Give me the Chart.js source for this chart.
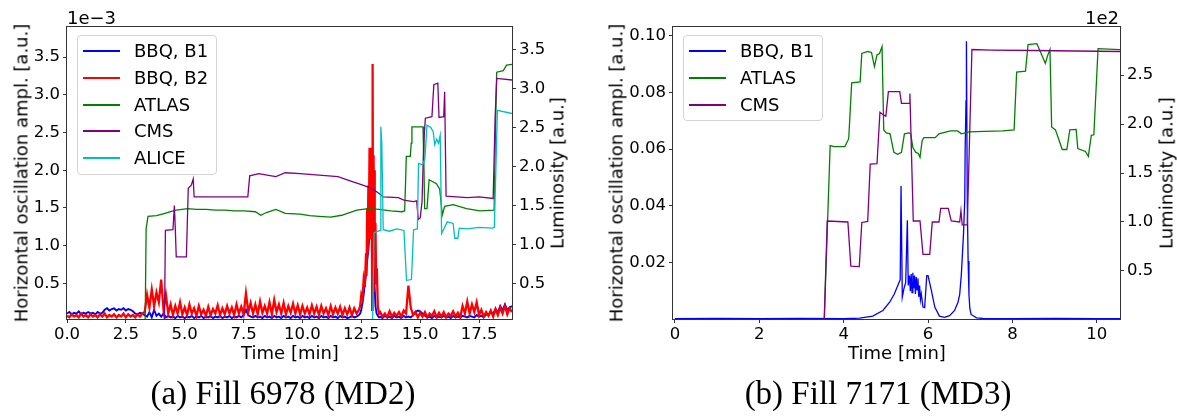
<!DOCTYPE html>
<html>
<head>
<meta charset="utf-8">
<script src="https://cdn.jsdelivr.net/npm/chart.js@4.4.1/dist/chart.umd.min.js"></script>
<style>
  body { margin: 0; background: #fff; width: 1177px; height: 417px; position: relative; overflow: hidden; font-family: "DejaVu Sans", sans-serif; }
  canvas { position: absolute; top: 0; }
  .t { position: absolute; font-size: 18px; line-height: 21px; color: #000; white-space: nowrap; }
  .c { transform: translate(-50%, -50%); }
  .rot { transform: translate(-50%, -50%) rotate(-90deg); }
  .cap { position: absolute; font-family: "Liberation Serif", "Times New Roman", serif; font-size: 33px; white-space: nowrap; transform: translate(-50%, -50%); }
  .legend { position: absolute; border: 1px solid #d4d4d4; border-radius: 4px; background: rgba(255,255,255,0.8); box-sizing: border-box; }
</style>
</head>
<body>
<canvas id="left" width="590" height="345" style="left:0"></canvas>
<canvas id="right" width="587" height="345" style="left:590px"></canvas>

<div class="t" style="left:67px;top:7px">1e−3</div>
<div class="t" style="right:58px;top:7px">1e2</div>
<div class="t rot" style="left:21px;top:173px">Horizontal oscillation ampl. [a.u.]</div>
<div class="t rot" style="left:557px;top:173px">Luminosity [a.u.]</div>
<div class="t rot" style="left:616px;top:173px">Horizontal oscillation ampl. [a.u.]</div>
<div class="t rot" style="left:1166px;top:173px">Luminosity [a.u.]</div>
<div class="t c" style="left:290px;top:352px">Time [min]</div>
<div class="t c" style="left:897px;top:352px">Time [min]</div>
<div class="cap" style="left:283px;top:393px">(a) Fill 6978 (MD2)</div>
<div class="cap" style="left:878px;top:393px">(b) Fill 7171 (MD3)</div>

<script>
// ---------- (a) Fill 6978 ----------
// time grid of the BBQ traces [min]
const gridA = [
  0, 0.1, 0.2, 0.3, 0.4, 0.5, 0.6, 0.7, 0.8, 0.9,
  1, 1.1, 1.2, 1.3, 1.4, 1.5, 1.6, 1.7, 1.8, 1.9,
  2, 2.1, 2.2, 2.3, 2.4, 2.5, 2.6, 2.7, 2.8, 2.9,
  3, 3.1, 3.2, 3.3, 3.4, 3.5, 3.6, 3.7, 3.8, 3.9,
  4, 4.1, 4.2, 4.3, 4.4, 4.5, 4.6, 4.7, 4.8, 4.9,
  5, 5.1, 5.2, 5.3, 5.4, 5.5, 5.6, 5.7, 5.8, 5.9,
  6, 6.1, 6.2, 6.3, 6.4, 6.5, 6.6, 6.7, 6.8, 6.9,
  7, 7.1, 7.2, 7.3, 7.4, 7.5, 7.6, 7.7, 7.8, 7.9,
  8, 8.1, 8.2, 8.3, 8.4, 8.5, 8.6, 8.7, 8.8, 8.9,
  9, 9.1, 9.2, 9.3, 9.4, 9.5, 9.6, 9.7, 9.8, 9.9,
  10, 10.1, 10.2, 10.3, 10.4, 10.5, 10.6, 10.7, 10.8, 10.9,
  11, 11.1, 11.2, 11.3, 11.4, 11.5, 11.6, 11.7, 11.8, 11.9,
  12, 12.1, 12.2, 12.3, 12.4
];
const gridB = [
  13.3, 13.4, 13.5, 13.6, 13.7, 13.8, 13.9,
  14, 14.1, 14.2, 14.3, 14.4, 14.5, 14.6, 14.7, 14.8, 14.9,
  15, 15.1, 15.2, 15.3, 15.4, 15.5, 15.6, 15.7, 15.8, 15.9,
  16, 16.1, 16.2, 16.3, 16.4, 16.5, 16.6, 16.7, 16.8, 16.9,
  17, 17.1, 17.2, 17.3, 17.4, 17.5, 17.6, 17.7, 17.8, 17.9,
  18, 18.1, 18.2, 18.3, 18.4, 18.5, 18.6, 18.7, 18.8, 18.9
];

// BBQ B2 amplitude (x1e-3)
const b2AmpA = [
  0.07, 0.05, 0.09, 0.06, 0.08, 0.05, 0.10, 0.06, 0.08, 0.05,
  0.09, 0.06, 0.08, 0.05, 0.09, 0.06, 0.10, 0.05, 0.08, 0.06,
  0.09, 0.05, 0.08, 0.06, 0.10, 0.05, 0.09, 0.06, 0.08, 0.05,
  0.09, 0.06, 0.10, 0.12, 0.35, 0.18, 0.42, 0.20, 0.38, 0.25,
  0.55, 0.15, 0.35, 0.10, 0.22, 0.08, 0.20, 0.10, 0.25, 0.09,
  0.18, 0.08, 0.22, 0.10, 0.17, 0.07, 0.20, 0.09, 0.15, 0.07,
  0.19, 0.08, 0.16, 0.10, 0.21, 0.08, 0.17, 0.09, 0.20, 0.10,
  0.18, 0.08, 0.22, 0.10, 0.19, 0.09, 0.37, 0.12, 0.24, 0.10,
  0.22, 0.09, 0.26, 0.11, 0.20, 0.10, 0.25, 0.09, 0.28, 0.12,
  0.22, 0.10, 0.24, 0.09, 0.20, 0.11, 0.23, 0.10, 0.21, 0.09,
  0.20, 0.10, 0.18, 0.09, 0.21, 0.10, 0.19, 0.08, 0.20, 0.10,
  0.17, 0.08, 0.20, 0.09, 0.18, 0.10, 0.19, 0.08, 0.17, 0.09,
  0.18, 0.08, 0.17, 0.10, 0.15
];
const b2PeakT = [12.45, 12.5, 12.55, 12.6, 12.65, 12.7, 12.72, 12.75, 12.77, 12.8, 12.82, 12.85, 12.87, 12.9,
  12.92, 12.94, 12.96, 12.98, 13.0, 13.02, 13.04, 13.06, 13.08, 13.1, 13.13, 13.16, 13.2, 13.25];
const b2PeakA = [0.2, 0.35, 0.3, 0.55, 0.45, 0.9, 0.6, 1.5, 0.9, 1.8, 1.2, 2.3, 1.1, 2.0,
  1.4, 2.3, 0.15, 3.41, 0.4, 2.2, 1.2, 2.0, 0.9, 1.3, 0.5, 0.7, 0.2, 0.1];
const b2AmpB = [
  0.12, 0.06, 0.10, 0.05, 0.13, 0.06, 0.11,
  0.07, 0.12, 0.06, 0.14, 0.10, 0.47, 0.18, 0.08, 0.12, 0.05,
  0.11, 0.06, 0.12, 0.05, 0.10, 0.07, 0.13, 0.05, 0.11, 0.06,
  0.12, 0.05, 0.10, 0.07, 0.13, 0.06, 0.11, 0.05, 0.20, 0.10,
  0.26, 0.10, 0.22, 0.12, 0.25, 0.08, 0.15, 0.06, 0.12, 0.07,
  0.14, 0.06, 0.16, 0.08, 0.18, 0.10, 0.20, 0.09, 0.17, 0.12
];

// BBQ B1 amplitude (x1e-3)
const b1AmpA = [
  0.10, 0.12, 0.09, 0.11, 0.10, 0.13, 0.09, 0.11, 0.10, 0.12,
  0.10, 0.11, 0.09, 0.12, 0.10, 0.11, 0.15, 0.17, 0.14, 0.16,
  0.17, 0.14, 0.16, 0.15, 0.17, 0.14, 0.16, 0.15, 0.13, 0.10,
  0.09, 0.11, 0.10, 0.08, 0.06, 0.12, 0.05, 0.15, 0.07, 0.10,
  0.06, 0.10, 0.05, 0.07, 0.05, 0.06, 0.04, 0.07, 0.05, 0.06,
  0.04, 0.06, 0.05, 0.07, 0.04, 0.06, 0.05, 0.07, 0.04, 0.06,
  0.05, 0.07, 0.04, 0.06, 0.05, 0.07, 0.04, 0.06, 0.05, 0.07,
  0.04, 0.06, 0.05, 0.07, 0.05, 0.08, 0.15, 0.08, 0.06, 0.05,
  0.07, 0.05, 0.06, 0.04, 0.07, 0.05, 0.06, 0.04, 0.07, 0.05,
  0.06, 0.04, 0.07, 0.05, 0.06, 0.04, 0.07, 0.05, 0.06, 0.04,
  0.07, 0.05, 0.06, 0.04, 0.07, 0.05, 0.06, 0.04, 0.07, 0.05,
  0.06, 0.04, 0.07, 0.05, 0.06, 0.04, 0.07, 0.05, 0.06, 0.04,
  0.05, 0.07, 0.05, 0.06, 0.08
];
const b1PeakT = [12.45, 12.5, 12.55, 12.6, 12.65, 12.7, 12.75, 12.8, 12.85, 12.9, 12.94, 12.98, 13.02, 13.06, 13.1, 13.15, 13.2, 13.25];
const b1PeakA = [0.1, 0.15, 0.25, 0.35, 0.5, 0.62, 0.8, 0.95, 1.15, 1.4, 1.6, 1.3, 0.9, 0.5, 0.2, 0.1, 0.07, 0.05];
const b1AmpB = [
  0.06, 0.04, 0.07, 0.05, 0.06, 0.04, 0.07,
  0.05, 0.06, 0.04, 0.07, 0.05, 0.06, 0.05, 0.08, 0.12, 0.14,
  0.13, 0.10, 0.07, 0.05, 0.06, 0.04, 0.07, 0.05, 0.06, 0.05,
  0.07, 0.05, 0.06, 0.04, 0.07, 0.05, 0.06, 0.05, 0.07, 0.06,
  0.05, 0.07, 0.06, 0.05, 0.08, 0.06, 0.07, 0.05, 0.09, 0.08,
  0.12, 0.10, 0.16, 0.12, 0.20, 0.14, 0.22, 0.15, 0.18, 0.20
];

// luminosities, fill 6978
const atlasT = [0, 3.32, 3.36, 3.44, 3.8, 4.16, 4.4, 4.64, 5.12, 5.5, 5.92, 6.3, 6.72, 7.1, 7.52, 8.0, 8.23, 8.47, 8.87, 9.27,
  9.91, 10.3, 10.71, 11.19, 11.67, 12.0, 12.31, 12.79, 13.27, 13.75, 14.23, 14.34, 14.38, 14.41, 14.58, 14.62, 14.65, 15.12,
  15.16, 15.19, 15.29, 15.38, 15.69, 15.83, 15.9, 15.94, 16.04, 16.4, 16.97, 17.54, 18.14, 18.2, 18.25, 18.53, 18.67, 18.9];
const atlasLumi = [0, 0, 1.2, 1.36, 1.37, 1.40, 1.42, 1.44, 1.46, 1.45, 1.45, 1.44, 1.44, 1.43, 1.43, 1.42, 1.375, 1.41, 1.45, 1.40,
  1.39, 1.37, 1.36, 1.35, 1.375, 1.41, 1.44, 1.46, 1.45, 1.43, 1.42, 1.43, 1.8, 2.13, 2.13, 2.3, 2.51, 2.51,
  2.0, 1.46, 1.46, 1.83, 1.78, 1.71, 1.5, 1.38, 1.49, 1.51, 1.46, 1.43, 1.44, 2.5, 3.21, 3.23, 3.30, 3.31];

const cmsT = [0, 4.14, 4.18, 4.5, 4.56, 4.6, 4.64, 5.07, 5.15, 5.28, 5.36, 5.40, 6.5, 7.68, 7.76, 8.15, 8.5, 8.87, 9.27, 9.91,
  10.71, 11.51, 11.99, 12.47, 12.95, 13.27, 13.43, 14.07, 14.31, 14.71, 14.85, 14.92, 15.0, 15.08, 15.15, 15.22, 15.5, 15.58,
  15.75, 15.8, 16.0, 16.04, 16.1, 17.0, 17.5, 18.1, 18.18, 18.25, 18.9];
const cmsLumi = [0, 0, 1.18, 1.19, 1.50, 1.2, 0.84, 0.84, 1.72, 1.76, 1.84, 1.61, 1.61, 1.61, 1.88, 1.91, 1.89, 1.87, 1.92, 1.91,
  1.89, 1.87, 1.82, 1.77, 1.72, 1.65, 1.61, 1.60, 1.57, 1.55, 1.56, 1.32, 1.34, 1.55, 2.3, 2.62, 2.64, 3.05,
  3.07, 2.63, 2.64, 2.96, 1.62, 1.60, 1.61, 1.59, 2.6, 3.13, 3.11];

const aliceT = [0, 12.98, 13.04, 13.3, 13.33, 13.37, 13.43, 13.7, 14.0, 14.31, 14.42, 14.63, 14.72, 14.88, 14.93, 15.1, 15.2,
  15.29, 15.45, 15.55, 15.62, 15.7, 15.78, 15.85, 15.91, 16.15, 16.4, 16.47, 16.6, 16.66, 17.0, 17.5, 18.07, 18.15, 18.28, 18.9];
const aliceLumi = [0, 0, 1.15, 1.18, 2.51, 2.3, 1.19, 1.17, 1.2, 1.18, 0.54, 0.55, 1.19, 1.2, 2.04, 2.02, 2.1,
  2.53, 2.5, 2.45, 2.28, 2.35, 2.3, 2.4, 1.14, 1.29, 1.27, 1.08, 1.08, 1.21, 1.2, 1.22, 1.21, 1.22, 2.72, 2.68];

const xTicksA = [0, 2.5, 5, 7.5, 10, 12.5, 15, 17.5];
const xLabelsA = ['0.0', '2.5', '5.0', '7.5', '10.0', '12.5', '15.0', '17.5'];
const ampTicksA = [0.5, 1.0, 1.5, 2.0, 2.5, 3.0, 3.5];
const ampLabelsA = ['0.5', '1.0', '1.5', '2.0', '2.5', '3.0', '3.5'];
const lumTicksA = [0.5, 1.0, 1.5, 2.0, 2.5, 3.0, 3.5];
const lumLabelsA = ['0.5', '1.0', '1.5', '2.0', '2.5', '3.0', '3.5'];

// ---------- (b) Fill 7171 ----------
const b1bT = [0, 1, 2, 3, 4, 4.38, 4.69, 4.93, 5.09, 5.2, 5.3, 5.34, 5.36, 5.39, 5.43, 5.47, 5.51, 5.53, 5.56, 5.58,
  5.60, 5.62, 5.64, 5.66, 5.68, 5.70, 5.72, 5.74, 5.76, 5.78, 5.80, 5.82, 5.84, 5.88, 5.92, 5.97, 6.0, 6.08, 6.16, 6.27,
  6.39, 6.51, 6.63, 6.71, 6.75, 6.79, 6.84, 6.87, 6.88, 6.90, 6.91, 6.93, 6.95, 6.97, 6.99, 7.02, 7.15, 7.3, 8, 9, 10, 10.55];
const b1bAmp = [0.0003, 0.0004, 0.0003, 0.0004, 0.0003, 0.0005, 0.0012, 0.0032, 0.0061, 0.009, 0.0126, 0.014, 0.047, 0.0079,
  0.011, 0.013, 0.035, 0.012, 0.0155, 0.010, 0.016, 0.0095, 0.0165, 0.011, 0.0155, 0.009, 0.015, 0.0105, 0.0145, 0.008,
  0.012, 0.007, 0.009, 0.0044, 0.0042, 0.0155, 0.0155, 0.0102, 0.0044, 0.0012, 0.0008, 0.0014, 0.0032, 0.0061, 0.0088,
  0.016, 0.03, 0.042, 0.06, 0.077, 0.098, 0.042, 0.0206, 0.0088, 0.004, 0.0018, 0.0006, 0.0004, 0.0003, 0.0004, 0.0003, 0.0003];

const atlasBT = [0, 3.54, 3.68, 3.77, 4.03, 4.12, 4.19, 4.39, 4.43, 4.57, 4.66, 4.73, 4.79, 4.85, 4.91, 4.95, 5.01, 5.10,
  5.19, 5.28, 5.37, 5.44, 5.55, 5.59, 5.64, 5.71, 5.77, 5.81, 5.86, 5.90, 6.17, 6.26, 6.53, 6.70, 6.79, 6.88, 6.97, 7.33,
  7.77, 8.04, 8.10, 8.31, 8.37, 8.58, 8.66, 8.78, 8.84, 8.89, 8.93, 9.02, 9.11, 9.18, 9.29, 9.36, 9.51, 9.55, 9.73, 9.80,
  9.87, 9.93, 10.03, 10.55];
const atlasBLumi = [0, 0, 1.78, 1.77, 1.77, 1.85, 2.42, 2.43, 2.72, 2.74, 2.73, 2.585, 2.705, 2.72, 2.79, 1.94, 1.91, 1.90,
  1.71, 1.69, 1.71, 1.90, 1.91, 1.90, 1.76, 1.71, 1.70, 1.66, 1.83, 1.86, 1.86, 1.90, 1.93, 1.93, 1.90, 1.91, 1.92, 1.925,
  1.93, 1.94, 2.53, 2.54, 2.81, 2.82, 2.74, 2.62, 2.705, 2.76, 1.97, 1.94, 1.83, 1.74, 1.74, 1.94, 1.945, 1.75, 1.72, 1.67,
  1.885, 1.89, 2.77, 2.76];

const cmsBT = [0, 3.54, 3.61, 3.86, 4.10, 4.17, 4.37, 4.43, 4.57, 4.63, 4.79, 4.86, 4.95, 5.0, 5.06, 5.33, 5.37, 5.55, 5.57,
  5.65, 5.81, 5.88, 6.04, 6.10, 6.26, 6.30, 6.48, 6.55, 6.75, 6.78, 6.81, 6.93, 7.04, 7.5, 8.5, 9.5, 10.55];
const cmsBLumi = [0, 0, 1.01, 1.005, 1.0, 0.55, 0.545, 0.995, 1.005, 1.59, 1.595, 2.12, 2.09, 2.08, 2.33, 2.33, 2.21, 2.21, 2.31,
  1.01, 1.01, 0.67, 0.67, 1.0, 1.0, 1.14, 1.14, 1.01, 1.0, 1.115, 0.97, 0.97, 2.76, 2.755, 2.75, 2.745, 2.74];

const xTicksB = [0, 2, 4, 6, 8, 10];
const xLabelsB = ['0', '2', '4', '6', '8', '10'];
const ampTicksB = [0.02, 0.04, 0.06, 0.08, 0.10];
const ampLabelsB = ['0.02', '0.04', '0.06', '0.08', '0.10'];
const lumTicksB = [0.5, 1.0, 1.5, 2.0, 2.5];
const lumLabelsB = ['0.5', '1.0', '1.5', '2.0', '2.5'];

// ---------- drawing ----------
Chart.defaults.font.family = '"DejaVu Sans", sans-serif';
Chart.defaults.color = '#000';

const pts = (xs, ys) => xs.map((x, i) => ({ x: x, y: ys[i] }));

function axis(pos, min, max, vals, labels, size) {
  const horiz = pos === 'bottom';
  return {
    type: 'linear', position: pos, min: min, max: max,
    afterBuildTicks: s => { s.ticks = vals.map(v => ({ value: v })); },
    afterFit: s => { if (horiz) s.height = size; else s.width = size; },
    ticks: { callback: (v, i) => labels[i], autoSkip: false, maxRotation: 0, font: { size: 16.5 }, color: '#000', padding: horiz ? 2 : 3 },
    grid: { drawOnChartArea: false, drawTicks: true, tickLength: 4, color: '#333' },
    border: { display: false }
  };
}

function line(label, data, color, axisId, order, width) {
  return { label: label, data: data, borderColor: color, backgroundColor: color, borderWidth: width,
    pointRadius: 0, tension: 0, fill: false, yAxisID: axisId, order: order };
}

const framePlugin = {
  id: 'frame',
  afterDraw(chart) {
    const a = chart.chartArea, ctx = chart.ctx;
    ctx.save();
    ctx.strokeStyle = '#333';
    ctx.lineWidth = 1;
    ctx.strokeRect(a.left - 0.5, a.top - 0.5, a.right - a.left + 1, a.bottom - a.top + 1);
    ctx.restore();
  }
};

function options(scales) {
  return {
    responsive: false, animation: false, devicePixelRatio: 1, events: [],
    layout: { padding: { top: 27, left: 0, right: 0, bottom: 0 } },
    plugins: { legend: { display: false }, tooltip: { enabled: false } },
    scales: scales
  };
}

const chartA = new Chart(document.getElementById('left'), {
  type: 'line',
  data: {
    datasets: [
      line('BBQ, B1', pts(gridA.concat(b1PeakT, gridB), b1AmpA.concat(b1PeakA, b1AmpB)), '#0000ff', 'y', 4, 1.9),
      line('BBQ, B2', pts(gridA.concat(b2PeakT, gridB), b2AmpA.concat(b2PeakA, b2AmpB)), '#ff0000', 'y', 3, 2.3),
      line('ATLAS', pts(atlasT, atlasLumi), '#008000', 'y2', 2, 1.3),
      line('CMS', pts(cmsT, cmsLumi), '#800080', 'y2', 1, 1.3),
      line('ALICE', pts(aliceT, aliceLumi), '#00bfbf', 'y2', 0, 1.3)
    ]
  },
  options: options({
    x: axis('bottom', 0, 18.9, xTicksA, xLabelsA, 26),
    y: axis('left', 0.028, 3.9, ampTicksA, ampLabelsA, 67),
    y2: axis('right', 0.044, 3.79, lumTicksA, lumLabelsA, 78)
  }),
  plugins: [framePlugin]
});

const chartB = new Chart(document.getElementById('right'), {
  type: 'line',
  data: {
    datasets: [
      line('BBQ, B1', pts(b1bT, b1bAmp), '#0000ff', 'y', 2, 1.3),
      line('ATLAS', pts(atlasBT, atlasBLumi), '#008000', 'y2', 1, 1.3),
      line('CMS', pts(cmsBT, cmsBLumi), '#800080', 'y2', 0, 1.3)
    ]
  },
  options: options({
    x: axis('bottom', -0.045, 10.55, xTicksB, xLabelsB, 26),
    y: axis('left', 0.0002, 0.103, ampTicksB, ampLabelsB, 83),
    y2: axis('right', 0.01, 2.99, lumTicksB, lumLabelsB, 57)
  }),
  plugins: [framePlugin]
});

function htmlLegend(chart, left, top, w, h) {
  const box = document.createElement('div');
  box.className = 'legend';
  Object.assign(box.style, { left: left + 'px', top: top + 'px', width: w + 'px', height: h + 'px' });
  chart.data.datasets.forEach((d, i) => {
    const y = 15 + i * 26.8;
    const mark = document.createElement('div');
    mark.style.cssText = 'position:absolute;left:5px;top:' + (y - 1) + 'px;width:37px;height:2px;background:' + d.borderColor;
    const txt = document.createElement('div');
    txt.textContent = d.label;
    txt.style.cssText = 'position:absolute;left:56px;top:' + (y - 11) + 'px;font-size:18px;line-height:22px;white-space:nowrap';
    box.appendChild(mark);
    box.appendChild(txt);
  });
  document.body.appendChild(box);
}
htmlLegend(chartA, 77, 35, 140, 140);
htmlLegend(chartB, 683, 35, 140, 86);
</script>
</body>
</html>
